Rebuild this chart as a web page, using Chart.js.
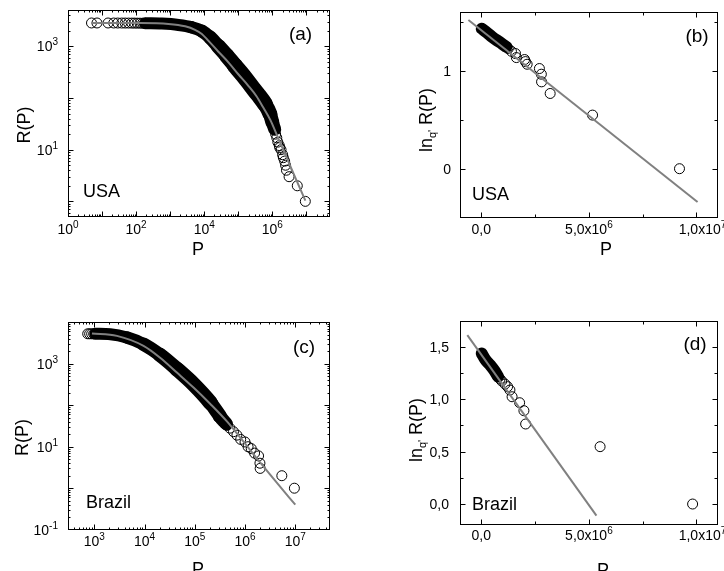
<!DOCTYPE html>
<html>
<head>
<meta charset="utf-8">
<title>Rank distributions USA / Brazil</title>
<script src="https://cdn.jsdelivr.net/npm/chart.js@4.4.1/dist/chart.umd.min.js"></script>
<style>
  body { margin: 0; background: #fff; }
  #wrap { position: relative; width: 724px; height: 571px; overflow: hidden; }
  #wrap canvas { position: absolute; left: 0; top: 0; }
</style>
</head>
<body>
<div id="wrap">
  <canvas id="chart-a" width="724" height="571"></canvas>
  <canvas id="chart-b" width="724" height="571"></canvas>
  <canvas id="chart-c" width="724" height="571"></canvas>
  <canvas id="chart-d" width="724" height="571"></canvas>
</div>
<script>
// (a) USA, R(P) log-log
const usaDotP = [4.9, 7.1, 15, 22, 29, 38, 48, 60, 75, 90, 108, 130, 155, 185,
                 1.2e6, 1.25e6, 1.35e6, 1.45e6, 1.6e6, 1.65e6, 1.8e6, 2.0e6, 2.1e6, 2.3e6, 2.45e6, 2.6e6, 3.1e6, 5.4e6, 9.3e6];
const usaDotR = [2830, 2829, 2828, 2826, 2824, 2822, 2820, 2818, 2815, 2812, 2808, 2804, 2800, 2795,
                 24, 20, 17, 14, 12, 11, 10, 8, 7, 6, 5, 4, 3, 2, 1];
// dense part of the cloud (markers overlap into a solid band)
const usaBandP = [185, 570, 1750, 4300, 8450, 14800, 26000, 45700, 79400, 141000, 245000, 389000, 603000, 851000, 1.0e6, 1.17e6];
const usaBandR = [2790, 2750, 2590, 2330, 1980, 1490, 1000, 659, 423, 270, 168, 114, 76.6, 49, 34, 25];
const usaFitP = [4.9, 100, 891, 2754, 5370, 8511, 13183, 25704, 51286, 1e5, 194984, 346737, 537032, 870964, 1.585e6, 2.69e6, 5.01e6, 9.33e6];
const usaFitR = [2831, 2818, 2704, 2438, 2089, 1738, 1288, 794, 490, 288, 174, 107, 66, 37.8, 15.1, 6.76, 2.63, 1.03];

// (b) USA, ln_q' R(P) vs P
const usaLnBandP = [0.02e6, 0.26e6, 0.49e6, 0.72e6, 0.95e6, 1.17e6];
const usaLnBandY = [1.432, 1.391, 1.35, 1.313, 1.279, 1.245];
const usaLnDotP = [1.25e6, 1.40e6, 1.59e6, 1.63e6, 2.01e6, 2.05e6, 2.13e6, 2.70e6, 2.79e6, 2.80e6, 3.20e6, 5.17e6, 9.21e6];
const usaLnDotY = [1.228, 1.20, 1.177, 1.136, 1.116, 1.095, 1.068, 1.024, 0.966, 0.888, 0.769, 0.548, 0.0];
const usaLnFitP = [-0.6e6, 1.005e7];
const usaLnFitY = [1.52, -0.34];

// (c) Brazil, R(P) log-log
const brDotP = [740, 809, 887, 973,
                0.3e6, 0.34e6, 0.38e6, 0.43e6, 0.5e6, 0.59e6, 0.69e6, 0.82e6, 1.0e6, 1.15e6, 1.33e6, 1.55e6, 1.86e6, 1.98e6, 2.0e6, 5.4e6, 9.6e6];
const brDotR = [5255, 5252, 5250, 5248,
                50, 42, 37, 33, 28, 23, 19, 15, 13, 10, 9, 7, 6, 4, 3, 2, 1];
const brBandP = [1047, 2089, 4467, 9550, 20417, 44668, 95499, 204174, 316228, 430000];
const brBandR = [5250, 5130, 4266, 2951, 1622, 733, 316, 115, 55, 35];
const brFitP = [899, 2818, 9550, 20417, 44668, 95499, 204174, 436516, 933254, 1.995e6, 4.365e6, 1e7];
const brFitR = [5370, 4677, 2692, 1396, 603, 263, 107, 40.7, 13.2, 4.17, 1.32, 0.40];

// (d) Brazil, ln_q' R(P) vs P
const brLnBandP = [0.02e6, 0.18e6, 0.41e6, 0.61e6, 0.78e6];
const brLnBandY = [1.436, 1.379, 1.325, 1.271, 1.215];
const brLnDotP = [0.87e6, 0.95e6, 1.10e6, 1.22e6, 1.33e6, 1.43e6, 1.78e6, 1.98e6, 2.06e6, 5.52e6, 9.82e6];
const brLnDotY = [1.192, 1.173, 1.144, 1.119, 1.087, 1.023, 0.966, 0.89, 0.763, 0.547, 0.0];
const brLnFitP = [-0.65e6, 5.35e6];
const brLnFitY = [1.61, -0.11];

// tick labels
const aXTickVals = [1, 1e2, 1e4, 1e6];
const aXTickExp = ['0', '2', '4', '6'];
const aYTickVals = [10, 1e3];
const aYTickExp = ['1', '3'];
const cXTickVals = [1e3, 1e4, 1e5, 1e6, 1e7];
const cXTickExp = ['3', '4', '5', '6', '7'];
const cYTickVals = [0.1, 10, 1e3];
const cYTickExp = ['-1', '1', '3'];
const lnXTickVals = [0, 5e6, 1e7];
const lnXTickText = [['0,0'], ['5,0x10', '6'], ['1,0x10', '7']];
const bYTickVals = [0, 1];
const bYTickText = ['0', '1'];
const dYTickVals = [0, 0.5, 1.0, 1.5];
const dYTickText = ['0,0', '0,5', '1,0', '1,5'];

const FONT = '"Liberation Sans", Arial, Helvetica, sans-serif';
const W = 724, H = 571;
const TICK = 14, SUP = 10, RISE = 6;

function pts(xs, ys) { return xs.map((x, i) => ({ x: x, y: ys[i] })); }

function logMinor(min, max) {
  const out = [];
  for (let e = Math.floor(Math.log10(min)); e <= Math.ceil(Math.log10(max)); e++) {
    for (let m = 2; m <= 9; m++) {
      const v = m * Math.pow(10, e);
      if (v > min && v < max) out.push(v);
    }
  }
  return out;
}

function pow10(exp) { return [['10', TICK, 0], [exp, SUP, RISE]]; }
function lnLabel(t) { return t.length > 1 ? [[t[0], TICK, 0], [t[1], SUP, RISE]] : [[t[0], TICK, 0]]; }

// draws a run of text pieces [text, size, rise]
function drawParts(ctx, parts, x, y, align) {
  let w = 0;
  parts.forEach(p => { ctx.font = p[1] + 'px ' + FONT; w += ctx.measureText(p[0]).width; });
  let cx = align === 'center' ? x - w / 2 : (align === 'right' ? x - w : x);
  parts.forEach(p => {
    ctx.font = p[1] + 'px ' + FONT;
    ctx.fillText(p[0], cx, y - p[2]);
    cx += ctx.measureText(p[0]).width;
  });
}

// frame, inward ticks and all the texts
function makeFrame(p) {
  return {
    id: 'frame',
    afterDraw(chart) {
      const ctx = chart.ctx;
      const a = chart.chartArea;
      const sx = chart.scales.x, sy = chart.scales.y;
      const L = Math.round(a.left) + 0.5, R = Math.round(a.right) - 0.5;
      const T = Math.round(a.top) + 0.5, B = Math.round(a.bottom) - 0.5;
      ctx.save();
      ctx.strokeStyle = '#000';
      ctx.lineWidth = 1;
      ctx.strokeRect(L, T, R - L, B - T);
      ctx.beginPath();
      const xt = (vals, len) => vals.forEach(v => {
        const px = Math.round(sx.getPixelForValue(v)) + 0.5;
        if (px < L + 1 || px > R - 1) return;
        ctx.moveTo(px, B); ctx.lineTo(px, B - len);
        ctx.moveTo(px, T); ctx.lineTo(px, T + len);
      });
      const yt = (vals, len) => vals.forEach(v => {
        const py = Math.round(sy.getPixelForValue(v)) + 0.5;
        if (py < T + 1 || py > B - 1) return;
        ctx.moveTo(L, py); ctx.lineTo(L + len, py);
        ctx.moveTo(R, py); ctx.lineTo(R - len, py);
      });
      xt(p.xMajor, 5); xt(p.xMinor, p.minorLen);
      yt(p.yMajor, 5); yt(p.yMinor, p.minorLen);
      ctx.stroke();

      ctx.fillStyle = '#000';
      ctx.textAlign = 'left';
      ctx.textBaseline = 'alphabetic';
      p.xLabels.forEach(l => drawParts(ctx, l.parts, sx.getPixelForValue(l.v) + (l.dx || 0), p.xLabelBase, 'center'));
      p.yLabels.forEach(l => drawParts(ctx, l.parts, p.yLabelRight, sy.getPixelForValue(l.v) + 5, 'right'));
      p.texts.forEach(t => {
        if (t.rot) {
          ctx.save();
          ctx.translate(t.x, t.y);
          ctx.rotate(-Math.PI / 2);
          drawParts(ctx, t.parts, 0, 0, 'center');
          ctx.restore();
        } else {
          drawParts(ctx, t.parts, t.x, t.y, t.align);
        }
      });
      ctx.restore();
    }
  };
}

const lnTitle = [['ln', 18, 0], ["q'", 11, -4], [' R(P)', 18, 0]];
const lnXLabels = lnXTickVals.map((v, i) => ({ v: v, dx: i === 2 ? 6 : 0, parts: lnLabel(lnXTickText[i]) }));

const panels = [
  {
    id: 'chart-a', type: 'logarithmic',
    area: { left: 68, top: 10.2, right: 330.2, bottom: 216.9 },
    x: [1, 5e7], y: [0.5, 5000],
    fit: pts(usaFitP, usaFitR), dots: pts(usaDotP, usaDotR), band: pts(usaBandP, usaBandR),
    bandWidths: [12, 12, 12, 12.5, 13, 14, 15, 15.5, 16, 16, 16, 16, 15, 14, 13, 12],
    xMajor: [1, 10, 1e2, 1e3, 1e4, 1e5, 1e6, 1e7], xMinor: logMinor(1, 5e7),
    yMajor: [1, 10, 100, 1000], yMinor: logMinor(0.5, 5000), minorLen: 2,
    xLabels: aXTickVals.map((v, i) => ({ v: v, parts: pow10(aXTickExp[i]) })),
    yLabels: aYTickVals.map((v, i) => ({ v: v, parts: pow10(aYTickExp[i]) })),
    xLabelBase: 234, yLabelRight: 58,
    texts: [
      { parts: [['(a)', 19, 0]], x: 300.5, y: 40, align: 'center' },
      { parts: [['USA', 18, 0]], x: 83, y: 197, align: 'left' },
      { parts: [['P', 18, 0]], x: 198, y: 255, align: 'center' },
      { parts: [['R(P)', 18, 0]], x: 29.5, y: 125, rot: true }
    ]
  },
  {
    id: 'chart-b', type: 'linear',
    area: { left: 459.8, top: 12.2, right: 722.3, bottom: 217.6 },
    x: [-1e6, 1.1e7], y: [-0.5, 1.6],
    fit: pts(usaLnFitP, usaLnFitY), dots: pts(usaLnDotP, usaLnDotY), band: pts(usaLnBandP, usaLnBandY),
    bandWidths: [12, 12, 12, 12, 12, 12],
    xMajor: [0, 5e6, 1e7], xMinor: [2.5e6, 7.5e6],
    yMajor: [0, 1], yMinor: [0.5, 1.5], minorLen: 3,
    xLabels: lnXLabels,
    yLabels: bYTickVals.map((v, i) => ({ v: v, parts: [[bYTickText[i], TICK, 0]] })),
    xLabelBase: 234, yLabelRight: 451,
    texts: [
      { parts: [['(b)', 19, 0]], x: 697, y: 42, align: 'center' },
      { parts: [['USA', 18, 0]], x: 472, y: 200, align: 'left' },
      { parts: [['P', 18, 0]], x: 606, y: 255, align: 'center' },
      { parts: lnTitle, x: 432, y: 120, rot: true }
    ]
  },
  {
    id: 'chart-c', type: 'logarithmic',
    area: { left: 68, top: 322.2, right: 330.4, bottom: 529.7 },
    x: [300, 5e7], y: [0.1, 1e4],
    fit: pts(brFitP, brFitR), dots: pts(brDotP, brDotR), band: pts(brBandP, brBandR),
    bandWidths: [12, 12, 12.5, 13.5, 14.5, 15, 15, 14, 13, 12],
    xMajor: [1e3, 1e4, 1e5, 1e6, 1e7], xMinor: logMinor(300, 5e7),
    yMajor: [1, 10, 100, 1000], yMinor: logMinor(0.1, 1e4), minorLen: 2,
    xLabels: cXTickVals.map((v, i) => ({ v: v, parts: pow10(cXTickExp[i]) })),
    yLabels: cYTickVals.map((v, i) => ({ v: v, parts: pow10(cYTickExp[i]) })),
    xLabelBase: 546, yLabelRight: 58,
    texts: [
      { parts: [['(c)', 19, 0]], x: 304, y: 353, align: 'center' },
      { parts: [['Brazil', 18, 0]], x: 86, y: 508, align: 'left' },
      { parts: [['P', 18, 0]], x: 198, y: 575, align: 'center' },
      { parts: [['R(P)', 18, 0]], x: 28, y: 437.5, rot: true }
    ]
  },
  {
    id: 'chart-d', type: 'linear',
    area: { left: 459.8, top: 320.5, right: 722.3, bottom: 525 },
    x: [-1e6, 1.1e7], y: [-0.2, 1.75],
    fit: pts(brLnFitP, brLnFitY), dots: pts(brLnDotP, brLnDotY), band: pts(brLnBandP, brLnBandY),
    bandWidths: [12, 12, 12, 12, 12],
    xMajor: [0, 5e6, 1e7], xMinor: [2.5e6, 7.5e6],
    yMajor: [0, 0.5, 1.0, 1.5], yMinor: [0.25, 0.75, 1.25], minorLen: 3,
    xLabels: lnXLabels,
    yLabels: dYTickVals.map((v, i) => ({ v: v, parts: [[dYTickText[i], TICK, 0]] })),
    xLabelBase: 540, yLabelRight: 449,
    texts: [
      { parts: [['(d)', 19, 0]], x: 695, y: 350, align: 'center' },
      { parts: [['Brazil', 18, 0]], x: 472, y: 510, align: 'left' },
      { parts: [['P', 18, 0]], x: 603, y: 576, align: 'center' },
      { parts: lnTitle, x: 422, y: 430, rot: true }
    ]
  }
];

panels.forEach(p => {
  const isLog = p.type === 'logarithmic';
  // the marker cloud gets fatter in the middle of the log-log curves
  const segWidth = c => p.bandWidths[c.p0DataIndex];
  new Chart(document.getElementById(p.id), {
    type: 'scatter',
    data: {
      datasets: [
        { data: p.fit, showLine: true, borderColor: '#808080', borderWidth: 2, pointRadius: 0,
          cubicInterpolationMode: isLog ? 'monotone' : 'default', tension: isLog ? 0.4 : 0, order: 0 },
        { data: p.dots, showLine: false, pointRadius: 5, pointBorderWidth: 1, pointBorderColor: '#000',
          pointBackgroundColor: 'rgba(0,0,0,0)', order: 1 },
        { data: p.band, showLine: true, borderColor: '#000', borderWidth: p.bandWidths[0], borderCapStyle: 'round',
          borderJoinStyle: 'round', pointRadius: 0, cubicInterpolationMode: 'monotone', tension: 0.4, order: 2,
          segment: { borderWidth: segWidth } }
      ]
    },
    options: {
      responsive: false,
      animation: false,
      devicePixelRatio: 1,
      events: [],
      layout: { padding: { left: p.area.left, top: p.area.top, right: W - p.area.right, bottom: H - p.area.bottom } },
      scales: {
        x: { type: p.type, display: false, min: p.x[0], max: p.x[1] },
        y: { type: p.type, display: false, min: p.y[0], max: p.y[1] }
      },
      plugins: { legend: { display: false }, tooltip: { enabled: false } }
    },
    plugins: [makeFrame(p)]
  });
});
</script>
</body>
</html>
